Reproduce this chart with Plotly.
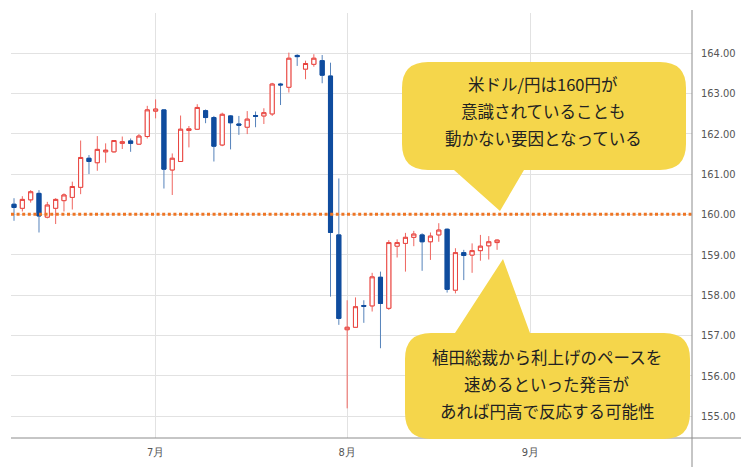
import plotly.graph_objects as go

# ---------------- data ----------------
dates = [
    "2024-06-06", "2024-06-07", "2024-06-10", "2024-06-11", "2024-06-12", "2024-06-13",
    "2024-06-14", "2024-06-17", "2024-06-18", "2024-06-19", "2024-06-20", "2024-06-21",
    "2024-06-24", "2024-06-25", "2024-06-26", "2024-06-27", "2024-06-28",
    "2024-07-01", "2024-07-02", "2024-07-03", "2024-07-04", "2024-07-05",
    "2024-07-08", "2024-07-09", "2024-07-10", "2024-07-11", "2024-07-12",
    "2024-07-15", "2024-07-16", "2024-07-17", "2024-07-18", "2024-07-19",
    "2024-07-22", "2024-07-23", "2024-07-24", "2024-07-25", "2024-07-26",
    "2024-07-29", "2024-07-30", "2024-07-31",
    "2024-08-01", "2024-08-02",
    "2024-08-05", "2024-08-06", "2024-08-07", "2024-08-08", "2024-08-09",
    "2024-08-12", "2024-08-13", "2024-08-14", "2024-08-15", "2024-08-16",
    "2024-08-19", "2024-08-20", "2024-08-21", "2024-08-22", "2024-08-23",
    "2024-08-26", "2024-08-27",
]
open_ = [160.25, 160.15, 160.36, 160.52, 159.93, 160.15, 160.34, 160.42, 160.67, 161.39,
         161.28, 161.55, 161.55, 161.76, 161.82, 161.74, 161.93, 162.56, 162.59, 161.10,
         161.31, 162.08, 162.11, 162.57, 162.40, 161.72, 162.44, 162.24, 162.16, 162.45,
         162.44, 162.49, 163.23, 163.15, 163.94, 163.60, 163.72, 163.81, 163.43, 159.49,
         157.14, 157.20, 157.74, 157.73, 158.44, 157.67, 159.21, 159.28, 159.43, 159.49,
         159.32, 159.49, 159.63, 158.12, 159.05, 158.99, 159.10, 159.22, 159.30]
high = [160.40, 160.45, 160.60, 160.60, 160.31, 160.40, 160.52, 160.81, 161.83, 161.47,
        161.94, 161.76, 161.84, 161.93, 161.88, 161.99, 162.69, 162.85, 162.60, 161.51,
        162.45, 162.19, 162.73, 162.60, 162.44, 162.52, 162.46, 162.44, 162.56, 162.55,
        162.63, 163.26, 163.26, 164.01, 163.97, 163.81, 163.97, 163.95, 163.76, 160.89,
        157.87, 157.94, 157.87, 158.55, 158.58, 159.36, 159.38, 159.54, 159.59, 159.53,
        159.55, 159.78, 159.65, 159.16, 159.12, 159.28, 159.49, 159.46, 159.38]
low = [159.84, 160.07, 160.29, 159.55, 159.90, 159.76, 160.07, 160.12, 160.50, 161.00,
       161.08, 161.28, 161.53, 161.62, 161.55, 161.72, 161.88, 162.38, 160.64, 160.48,
       161.31, 161.66, 162.09, 162.26, 161.31, 161.69, 161.61, 161.97, 161.99, 162.16,
       162.24, 162.44, 162.71, 163.02, 163.68, 163.35, 163.66, 163.25, 157.96, 157.26,
       155.19, 157.20, 157.31, 157.59, 156.68, 157.63, 158.93, 158.58, 159.21, 158.60,
       158.87, 159.32, 158.06, 158.04, 158.37, 158.55, 158.85, 158.88, 159.12]
close = [160.17, 160.37, 160.56, 159.96, 160.23, 160.37, 160.48, 160.69, 161.41, 161.31,
         161.61, 161.59, 161.83, 161.80, 161.76, 161.94, 162.59, 162.61, 161.12, 161.39,
         162.11, 162.12, 162.65, 162.40, 161.69, 162.48, 162.27, 162.21, 162.36, 162.43,
         162.52, 163.23, 163.21, 163.87, 163.91, 163.74, 163.87, 163.45, 159.55, 157.42,
         157.20, 157.71, 157.72, 158.45, 157.79, 159.30, 159.30, 159.43, 159.51, 159.32,
         159.46, 159.61, 158.14, 159.05, 158.98, 159.10, 159.21, 159.32, 159.36]

level_line = 160.0
price_ticks = [155, 156, 157, 158, 159, 160, 161, 162, 163, 164]
month_ticks = ["2024-07-01", "2024-08-01", "2024-09-02"]
month_labels = ["7月", "8月", "9月"]

callout_top = ["米ドル/円は160円が", "意識されていることも", "動かない要因となっている"]
callout_bottom = ["植田総裁から利上げのペースを", "速めるといった発言が", "あれば円高で反応する可能性"]

# ---------------- layout helpers (page pixel coordinates) ----------------
PAGE_W, PAGE_H = 749, 473
BODY = 8  # default page body margin offsets the figure
PLOT_L, PLOT_R, PLOT_T, PLOT_B = 11, 692, 13, 438
PW, PH = PLOT_R - PLOT_L, PLOT_B - PLOT_T
FIG_W, FIG_H = PAGE_W - BODY, PAGE_H - BODY
ML, MT = PLOT_L - BODY, PLOT_T - BODY
MR, MB = FIG_W - ML - PW, FIG_H - MT - PH


def px(x):
    return (x - PLOT_L) / PW


def py(y):
    return (PLOT_B - y) / PH


def callout_path(x0, y0, x1, y1, r, tail_l, tail_r, tip, down=True):
    X = px
    Y = py
    pts = [f"M{X(x0 + r)},{Y(y0)}"]
    if not down:
        pts.append(f"L{X(tail_l)},{Y(y0)}")
        pts.append(f"L{X(tip[0])},{Y(tip[1])}")
        pts.append(f"L{X(tail_r)},{Y(y0)}")
    pts.append(f"L{X(x1 - r)},{Y(y0)}")
    pts.append(f"Q{X(x1)},{Y(y0)} {X(x1)},{Y(y0 + r)}")
    pts.append(f"L{X(x1)},{Y(y1 - r)}")
    pts.append(f"Q{X(x1)},{Y(y1)} {X(x1 - r)},{Y(y1)}")
    if down:
        pts.append(f"L{X(tail_r)},{Y(y1)}")
        pts.append(f"L{X(tip[0])},{Y(tip[1])}")
        pts.append(f"L{X(tail_l)},{Y(y1)}")
    pts.append(f"L{X(x0 + r)},{Y(y1)}")
    pts.append(f"Q{X(x0)},{Y(y1)} {X(x0)},{Y(y1 - r)}")
    pts.append(f"L{X(x0)},{Y(y0 + r)}")
    pts.append(f"Q{X(x0)},{Y(y0)} {X(x0 + r)},{Y(y0)}")
    pts.append("Z")
    return " ".join(pts)


RED = "#E8433E"
RED_WICK = "#EF6660"
BLUE = "#0F4C9E"
BLUE_WICK = "#5683BB"
YELLOW = "#F5D64B"

body_hi = [max(o, c) for o, c in zip(open_, close)]
body_lo = [min(o, c) for o, c in zip(open_, close)]

fig = go.Figure()
# wicks (lighter colours)
fig.add_trace(go.Candlestick(
    x=dates, open=open_, high=high, low=low, close=close,
    increasing=dict(line=dict(color=RED_WICK, width=1), fillcolor="white"),
    decreasing=dict(line=dict(color=BLUE_WICK, width=1), fillcolor=BLUE),
    whiskerwidth=0, hoverinfo="skip", showlegend=False,
))
# bodies
fig.add_trace(go.Candlestick(
    x=dates, open=open_, high=body_hi, low=body_lo, close=close,
    increasing=dict(line=dict(color=RED, width=1), fillcolor="white"),
    decreasing=dict(line=dict(color=BLUE, width=1), fillcolor=BLUE),
    whiskerwidth=0, hoverinfo="skip", showlegend=False,
))

shapes = [
    dict(type="line", xref="paper", yref="y", x0=0, x1=1.002, y0=level_line, y1=level_line,
         line=dict(color="#EE7524", width=3, dash="3px,2.6px"), layer="above"),
    dict(type="line", xref="paper", yref="paper", x0=1, x1=1, y0=py(467), y1=py(10),
         line=dict(color="#8C8C8C", width=1), layer="above"),
    dict(type="line", xref="paper", yref="paper", x0=0, x1=px(746), y0=0, y1=0,
         line=dict(color="#8C8C8C", width=1), layer="above"),
    dict(type="path", xref="paper", yref="paper",
         path=callout_path(402, 62, 686, 170, 26, 454, 524, (500, 211), down=True),
         fillcolor=YELLOW, line=dict(width=0), layer="above"),
    dict(type="path", xref="paper", yref="paper",
         path=callout_path(405, 333, 690, 439, 26, 455, 530, (503, 259), down=False),
         fillcolor=YELLOW, line=dict(width=0), layer="above"),
]

annotations = []
for i, t in enumerate(callout_top):
    annotations.append(dict(xref="paper", yref="paper", x=px(543), y=py(84 + 27 * i),
                            text=t, showarrow=False, xanchor="center", yanchor="middle",
                            font=dict(family="Noto Sans CJK JP", size=16.5, color="#222")))
for i, t in enumerate(callout_bottom):
    annotations.append(dict(xref="paper", yref="paper", x=px(547), y=py(357 + 27 * i),
                            text=t, showarrow=False, xanchor="center", yanchor="middle",
                            font=dict(family="Noto Sans CJK JP", size=16.5, color="#222")))

tick_font = dict(family="DejaVu Sans Condensed, Liberation Sans Narrow, Roboto, sans-serif",
                 size=11, color="#555")

fig.update_layout(
    width=FIG_W, height=FIG_H,
    margin=dict(l=ML, r=MR, t=MT, b=MB, pad=0),
    paper_bgcolor="white", plot_bgcolor="white",
    shapes=shapes, annotations=annotations,
    showlegend=False,
    xaxis=dict(
        type="date",
        rangebreaks=[dict(bounds=["sat", "mon"])],
        range=["2024-06-05 15:20", "2024-09-27 09:40"],
        rangeslider=dict(visible=False),
        tickmode="array", tickvals=month_ticks, ticktext=month_labels,
        showgrid=True, gridcolor="#E2E2E2", gridwidth=1,
        zeroline=False, showline=False, ticks="",
        ticklabelstandoff=6,
        tickfont=tick_font, fixedrange=True,
    ),
    yaxis=dict(
        side="right",
        range=[154.4545, 164.992],
        tickmode="array", tickvals=price_ticks, tickformat=".2f",
        showgrid=True, gridcolor="#E2E2E2", gridwidth=1,
        zeroline=False, showline=False, ticks="",
        ticklabelstandoff=8,
        tickfont=tick_font, fixedrange=True,
    ),
)

fig.write_html("out.html")
